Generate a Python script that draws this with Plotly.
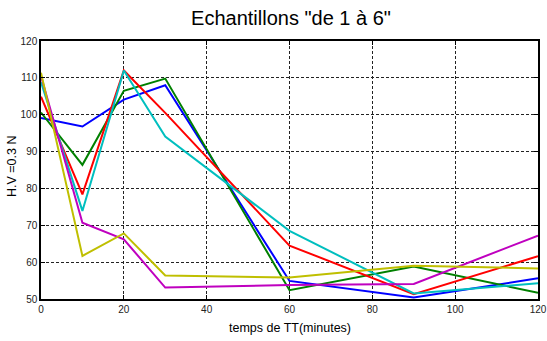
import plotly.graph_objects as go

times = [0, 10, 20, 30, 60, 90, 120]
ech1 = [99.1, 96.8, 104.1, 108.0, 54.9, 50.4, 55.6]   # blue
ech2 = [100.6, 86.4, 106.5, 109.8, 52.4, 58.8, 51.7]  # green
ech3 = [104.9, 78.4, 112.0, 100.5, 64.5, 51.3, 61.6]  # red
ech4 = [108.8, 73.9, 112.0, 94.1, 68.5, 51.5, 54.3]   # cyan
ech5 = [110.5, 70.7, 66.2, 53.1, 53.8, 54.1, 67.2]    # magenta
ech6 = [111.4, 61.7, 67.8, 56.4, 55.8, 59.0, 58.3]    # yellow

series = [ech1, ech2, ech3, ech4, ech5, ech6]
names = ["Echantillon 1", "Echantillon 2", "Echantillon 3",
         "Echantillon 4", "Echantillon 5", "Echantillon 6"]
colors = ["#0000FF", "#008000", "#FF0000", "#00BFBF", "#BF00BF", "#BFBF00"]

FONT = "Liberation Sans, Arial, sans-serif"

fig = go.Figure()
for ys, nm, c in zip(series, names, colors):
    fig.add_trace(go.Scatter(x=times, y=ys, mode="lines", name=nm,
                             line=dict(color=c, width=2)))

axis_common = dict(
    showline=True, linecolor="black", linewidth=1.5, mirror="ticks",
    ticks="inside", ticklen=4, tickcolor="black",
    showgrid=True, gridcolor="#222222", griddash="3px,2px", gridwidth=1,
    zeroline=False, automargin=False,
    tickfont=dict(family=FONT, size=10, color="#222222"),
)

fig.update_layout(
    width=547, height=341, autosize=False,
    margin=dict(l=41, r=9, t=41, b=42),
    paper_bgcolor="white", plot_bgcolor="white",
    showlegend=False,
    title=dict(text='Echantillons "de 1 à 6"', x=291 / 547, xanchor="center",
               y=1 - 18 / 341, yanchor="middle",
               font=dict(family=FONT, size=20, color="black")),
    xaxis=dict(range=[0, 120], dtick=20, **axis_common),
    yaxis=dict(range=[50, 120], dtick=10, **axis_common),
    annotations=[
        dict(text="temps de TT(minutes)", xref="paper", yref="paper",
             x=0.5, y=0, xanchor="center", yanchor="middle", yshift=-29,
             showarrow=False, font=dict(family=FONT, size=12.5, color="black")),
        dict(text="H.V =0.3 N", xref="paper", yref="paper",
             x=0, y=0.5, xanchor="center", yanchor="middle", xshift=-29, yshift=4,
             textangle=-90, showarrow=False,
             font=dict(family=FONT, size=12.5, color="black")),
    ],
)

fig.write_html("out.html")
